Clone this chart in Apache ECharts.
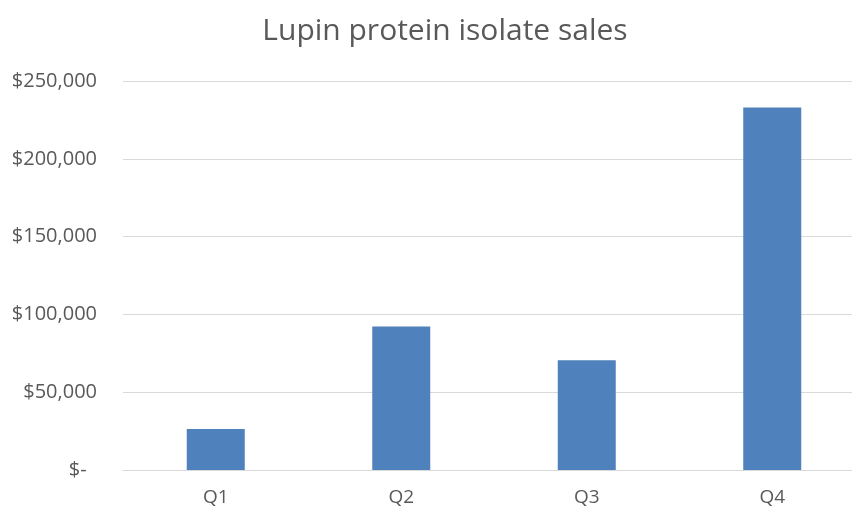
<!DOCTYPE html>
<html>
<head>
<meta charset="utf-8">
<script src="https://cdn.jsdelivr.net/npm/echarts@6/dist/echarts.min.js"></script>
<style>html,body{margin:0;padding:0;background:#fff;overflow:hidden;width:852px;height:510px}#c{width:865px;height:510px}</style>
</head>
<body>
<div id="c"></div>
<script>
const title = 'Lupin protein isolate sales';
const categories = ['Q1', 'Q2', 'Q3', 'Q4'];
const sales = [26400, 92300, 70600, 232900];
const yTicks = [0, 50000, 100000, 150000, 200000, 250000];

const chart = echarts.init(document.getElementById('c'), null, {renderer: 'canvas'});
chart.setOption({
  animation: false,
  title: {
    text: title,
    left: 440, top: 11, textAlign: 'center',
    textStyle: {fontFamily: 'Open Sans', fontSize: 30, fontWeight: 'normal', color: '#595959'}
  },
  grid: {left: 123, top: 81, right: 0, bottom: 40, containLabel: false},
  xAxis: {
    type: 'category', data: categories,
    axisLine: {lineStyle: {color: '#d9d9d9', width: 1}},
    axisTick: {show: false},
    axisLabel: {fontFamily: 'Open Sans', fontSize: 19, color: '#595959', margin: 18}
  },
  yAxis: {
    type: 'value', min: yTicks[0], max: yTicks[yTicks.length - 1], interval: 50000,
    axisLine: {show: false}, axisTick: {show: false},
    splitLine: {lineStyle: {color: '#d9d9d9', width: 1}},
    axisLabel: {
      fontFamily: 'Open Sans', fontSize: 20, color: '#595959', margin: 26,
      formatter: v => v === 0 ? '$-  ' : '$' + v.toLocaleString('en-US')
    }
  },
  series: [{
    type: 'bar', data: sales, barWidth: 58,
    itemStyle: {color: '#4f81bd'}
  }]
});
</script>
</body>
</html>
